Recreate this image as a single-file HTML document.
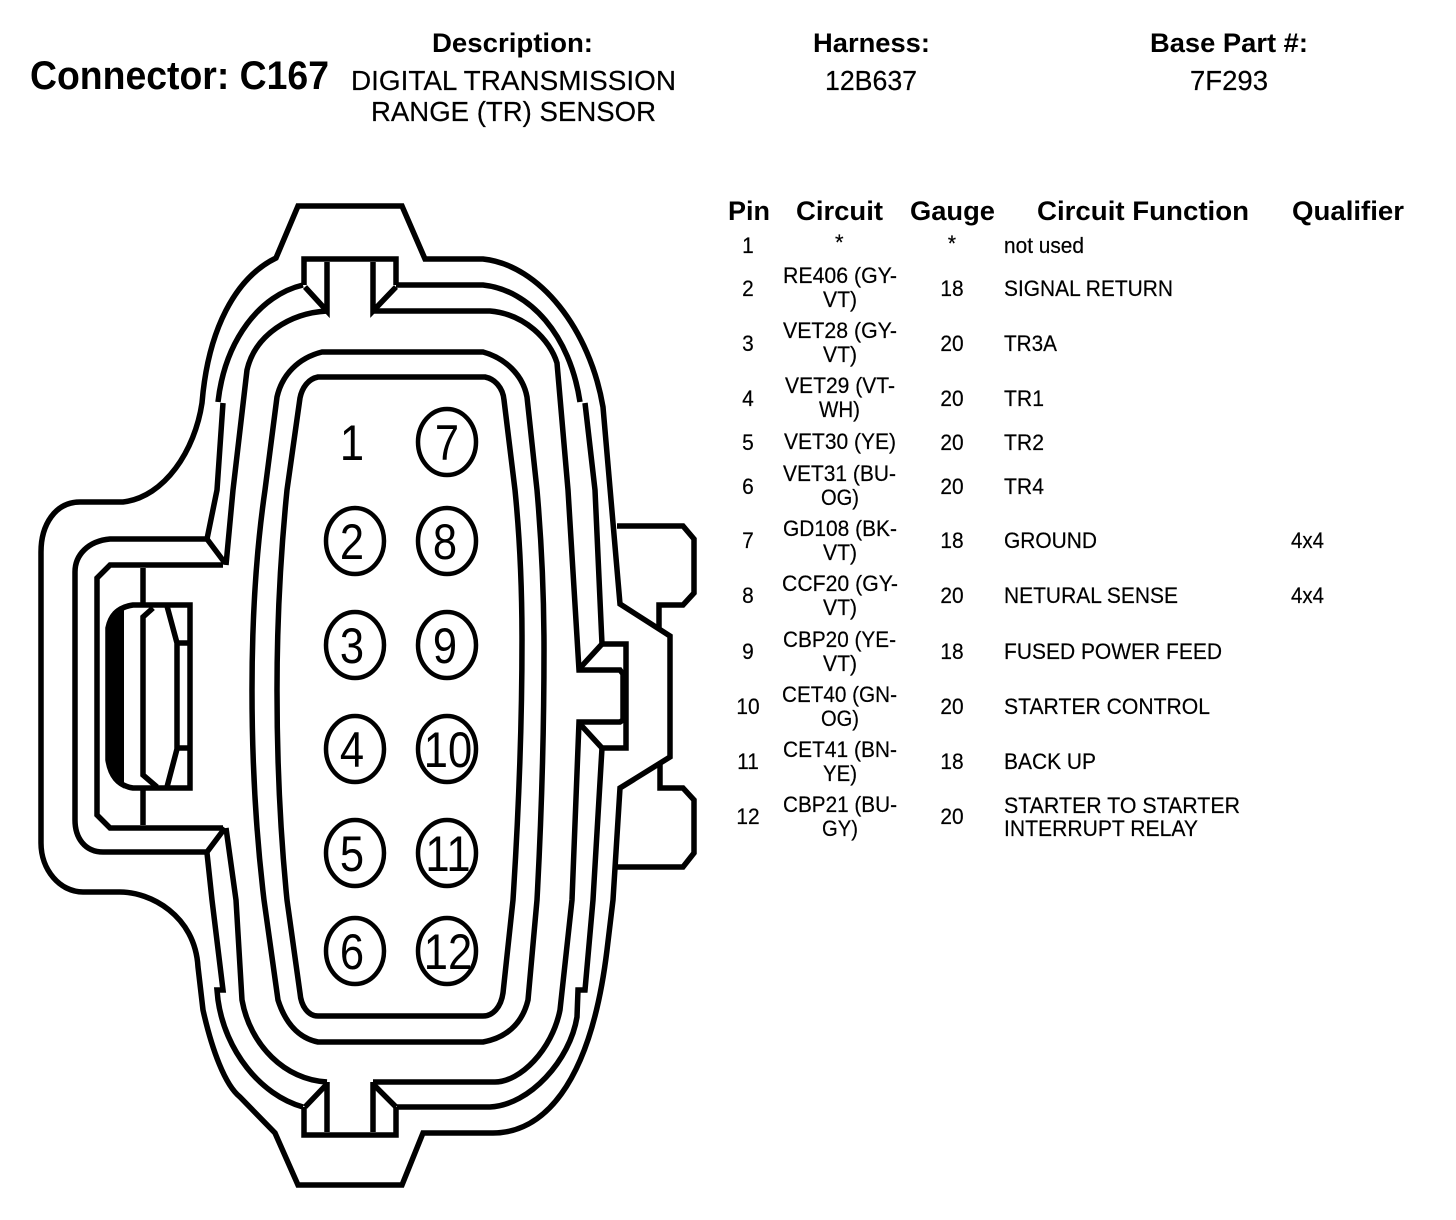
<!DOCTYPE html>
<html><head><meta charset="utf-8"><style>
html,body{margin:0;padding:0;background:#fff}
svg{display:block}
text{font-family:"Liberation Sans",sans-serif;fill:#000}
.h{font-weight:bold;font-size:27px}
.v{font-size:28px;stroke:#000;stroke-width:.2}
.t{font-size:22px;stroke:#000;stroke-width:.2}
.n{font-size:50px;text-anchor:middle}
</style></head><body>
<svg width="1456" height="1220" viewBox="0 0 1456 1220" xmlns="http://www.w3.org/2000/svg">
<rect width="1456" height="1220" fill="#fff"/>
<text x="30" y="89" font-size="40" font-weight="bold" textLength="299" lengthAdjust="spacingAndGlyphs">Connector: C167</text>
<text class="h" x="432" y="52" textLength="161" lengthAdjust="spacingAndGlyphs">Description:</text>
<text class="v" x="351" y="90" textLength="325" lengthAdjust="spacingAndGlyphs">DIGITAL TRANSMISSION</text>
<text class="v" x="371" y="121" textLength="285" lengthAdjust="spacingAndGlyphs">RANGE (TR) SENSOR</text>
<text class="h" x="813" y="52" textLength="117" lengthAdjust="spacingAndGlyphs">Harness:</text>
<text class="v" x="825" y="90" textLength="92" lengthAdjust="spacingAndGlyphs">12B637</text>
<text class="h" x="1150" y="52" textLength="158" lengthAdjust="spacingAndGlyphs">Base Part #:</text>
<text class="v" x="1190" y="90" textLength="78" lengthAdjust="spacingAndGlyphs">7F293</text>

<text class="h" x="728" y="220" textLength="42" lengthAdjust="spacingAndGlyphs">Pin</text>
<text class="h" x="796" y="220" textLength="87" lengthAdjust="spacingAndGlyphs">Circuit</text>
<text class="h" x="910" y="220" textLength="85" lengthAdjust="spacingAndGlyphs">Gauge</text>
<text class="h" x="1037" y="220" textLength="212" lengthAdjust="spacingAndGlyphs">Circuit Function</text>
<text class="h" x="1292" y="220" textLength="112" lengthAdjust="spacingAndGlyphs">Qualifier</text>

<g font-size="22">
<g text-anchor="middle" transform="translate(748,0) scale(.95,1)">
<text class="t" y="253">1</text><text class="t" y="296">2</text><text class="t" y="351">3</text><text class="t" y="406">4</text><text class="t" y="450">5</text><text class="t" y="494">6</text><text class="t" y="548">7</text><text class="t" y="603">8</text><text class="t" y="659">9</text><text class="t" y="714">10</text><text class="t" y="769">11</text><text class="t" y="824">12</text>
</g>
<g text-anchor="middle" transform="translate(952,0) scale(.95,1)">
<text class="t" y="251">*</text><text class="t" y="296">18</text><text class="t" y="351">20</text><text class="t" y="406">20</text><text class="t" y="450">20</text><text class="t" y="494">20</text><text class="t" y="548">18</text><text class="t" y="603">20</text><text class="t" y="659">18</text><text class="t" y="714">20</text><text class="t" y="769">18</text><text class="t" y="824">20</text>
</g>
<text class="t" x="835" y="250">*</text>
<text class="t" x="783" y="283" textLength="114" lengthAdjust="spacingAndGlyphs">RE406 (GY-</text>
<text class="t" x="823" y="307" textLength="34" lengthAdjust="spacingAndGlyphs">VT)</text>
<text class="t" x="783" y="338" textLength="114" lengthAdjust="spacingAndGlyphs">VET28 (GY-</text>
<text class="t" x="823" y="362" textLength="34" lengthAdjust="spacingAndGlyphs">VT)</text>
<text class="t" x="785" y="393" textLength="110" lengthAdjust="spacingAndGlyphs">VET29 (VT-</text>
<text class="t" x="819" y="417" textLength="41" lengthAdjust="spacingAndGlyphs">WH)</text>
<text class="t" x="784" y="449" textLength="112" lengthAdjust="spacingAndGlyphs">VET30 (YE)</text>
<text class="t" x="783" y="481" textLength="113" lengthAdjust="spacingAndGlyphs">VET31 (BU-</text>
<text class="t" x="821" y="505" textLength="38" lengthAdjust="spacingAndGlyphs">OG)</text>
<text class="t" x="783" y="536" textLength="114" lengthAdjust="spacingAndGlyphs">GD108 (BK-</text>
<text class="t" x="823" y="560" textLength="34" lengthAdjust="spacingAndGlyphs">VT)</text>
<text class="t" x="782" y="591" textLength="116" lengthAdjust="spacingAndGlyphs">CCF20 (GY-</text>
<text class="t" x="823" y="615" textLength="34" lengthAdjust="spacingAndGlyphs">VT)</text>
<text class="t" x="783" y="647" textLength="113" lengthAdjust="spacingAndGlyphs">CBP20 (YE-</text>
<text class="t" x="823" y="671" textLength="34" lengthAdjust="spacingAndGlyphs">VT)</text>
<text class="t" x="782" y="702" textLength="115" lengthAdjust="spacingAndGlyphs">CET40 (GN-</text>
<text class="t" x="821" y="726" textLength="38" lengthAdjust="spacingAndGlyphs">OG)</text>
<text class="t" x="783" y="757" textLength="114" lengthAdjust="spacingAndGlyphs">CET41 (BN-</text>
<text class="t" x="823" y="781" textLength="34" lengthAdjust="spacingAndGlyphs">YE)</text>
<text class="t" x="783" y="812" textLength="114" lengthAdjust="spacingAndGlyphs">CBP21 (BU-</text>
<text class="t" x="822" y="836" textLength="36" lengthAdjust="spacingAndGlyphs">GY)</text>

<text class="t" x="1004" y="253" textLength="80" lengthAdjust="spacingAndGlyphs">not used</text>
<text class="t" x="1004" y="296" textLength="169" lengthAdjust="spacingAndGlyphs">SIGNAL RETURN</text>
<text class="t" x="1004" y="351" textLength="53" lengthAdjust="spacingAndGlyphs">TR3A</text>
<text class="t" x="1004" y="406" textLength="40" lengthAdjust="spacingAndGlyphs">TR1</text>
<text class="t" x="1004" y="450" textLength="40" lengthAdjust="spacingAndGlyphs">TR2</text>
<text class="t" x="1004" y="494" textLength="40" lengthAdjust="spacingAndGlyphs">TR4</text>
<text class="t" x="1004" y="548" textLength="93" lengthAdjust="spacingAndGlyphs">GROUND</text>
<text class="t" x="1004" y="603" textLength="174" lengthAdjust="spacingAndGlyphs">NETURAL SENSE</text>
<text class="t" x="1004" y="659" textLength="218" lengthAdjust="spacingAndGlyphs">FUSED POWER FEED</text>
<text class="t" x="1004" y="714" textLength="206" lengthAdjust="spacingAndGlyphs">STARTER CONTROL</text>
<text class="t" x="1004" y="769" textLength="92" lengthAdjust="spacingAndGlyphs">BACK UP</text>
<text class="t" x="1004" y="813" textLength="236" lengthAdjust="spacingAndGlyphs">STARTER TO STARTER</text>
<text class="t" x="1004" y="836" textLength="194" lengthAdjust="spacingAndGlyphs">INTERRUPT RELAY</text>
<text class="t" x="1291" y="548" textLength="33" lengthAdjust="spacingAndGlyphs">4x4</text>
<text class="t" x="1291" y="603" textLength="33" lengthAdjust="spacingAndGlyphs">4x4</text>
</g>

<g fill="none" stroke="#000" stroke-width="5.5" stroke-linejoin="miter" stroke-miterlimit="3">
<!-- outer shell -->
<path d="M298 206 H402 L425 259 H483 C540 265 590 330 603 407 L620 604 L670 636 V757 L620 788 L613 900 L607 950 C590 1090 540 1133 493 1133 H423 L402 1185 H298 L275 1133 L240 1097 C225 1085 212 1050 203 1010 L198 967 C195 915 150 892 120 892 H83 C60 892 41 870 41 843 V552 C41 525 55 502 80 502 H123 C165 497 195 450 202 403 C208 330 235 278 276 258 Z"/>
<!-- right tabs -->
<path d="M617 526 H683 L694 539 V593 L683 605 H659 V628"/>
<path d="M660 763 V788 H683 L694 800 V853 L683 867 H613"/>
<!-- second ring -->
<path d="M303 285 C260 295 225 340 218 402"/>
<path d="M223 403 L217 490 L207 539 H110 C88 541 75 555 75 572 V820 C75 838 85 852 103 852 H207 L225 828"/>
<path d="M207 539 L225 563"/>
<path d="M207 853 L212 900 L223 990 H217 L218 1000 C225 1050 260 1095 303 1107"/>
<path d="M396 285 H483 C530 290 570 335 580 402"/>
<path d="M585 403 L595 490 L602 644 H626 V748 H602 L593 900 L585 990 H578 L577 1017 C570 1060 530 1105 490 1107 H397"/>
<!-- third ring -->
<path d="M327 311 C290 313 255 335 247 370 L233 490 L226 565"/>
<path d="M373 311 H490 C525 314 550 340 557 363 L568 490 L579 670 H620 L623 674 V720 L620 722 H579 L572 900 L560 1010 C552 1050 520 1082 495 1082 H373"/>
<path d="M226 828 L236 900 L242 1000 C250 1045 285 1080 327 1082"/>
<!-- inner rings -->
<path d="M322 352 H483 C505 358 523 375 527 397 L537 490 Q544 570 544 650 Q544 770 537 900 L528 1000 C522 1025 505 1038 483 1042 H318 C298 1038 285 1022 278 1000 L264 900 Q252 800 252 690 Q252 580 265 490 L277 397 C282 375 298 358 322 352 Z"/>
<path d="M318 377 H485 C495 379 503 388 504 400 L515 490 Q522 560 522 640 Q522 760 513 900 L503 993 C501 1007 493 1016 483 1016 H318 C308 1016 301 1006 300 993 L287 900 Q277 800 277 690 Q277 590 287 490 L300 398 C302 388 308 379 318 377 Z"/>
<!-- notches -->
<path d="M304 285 V259 H396 V285"/>
<path d="M327 262 V311 L305 287"/>
<path d="M373 262 V311 L396 287"/>
<path d="M304 1107 V1135 H396 V1107"/>
<path d="M327 1082 V1132 M373 1082 V1132"/>
<path d="M327 1084 L305 1107 M373 1084 L396 1107"/>
<!-- right notch -->
<path d="M602 644 L580 668 M580 724 L602 748"/>
<!-- left channel -->
<path d="M223 565 H110 L97 578 V815 L110 828 H223"/>
<path d="M143 568 V605 M143 788 V825"/>
<!-- latch -->
<path d="M133 605 H190 V788 H133 Q112 785 108 760 V628 Q112 608 133 605 Z"/>
<path d="M108 630 Q110 612 122 608 V785 Q110 778 108 760 Z" fill="#000" stroke-width="4"/>
<path d="M153 608 L143 617 V775 L157 787"/>
<path d="M167 606 L177 643 V749 L167 787"/>
<path d="M177 643 H190 M177 748 H190"/>
</g>

<!-- pins -->
<g fill="none" stroke="#000" stroke-width="4.5">
<ellipse cx="447" cy="442" rx="29" ry="33"/>
<ellipse cx="355" cy="541" rx="29" ry="33"/><ellipse cx="447" cy="541" rx="29" ry="33"/>
<ellipse cx="355" cy="645" rx="29" ry="33"/><ellipse cx="447" cy="645" rx="29" ry="33"/>
<ellipse cx="355" cy="749" rx="29" ry="33"/><ellipse cx="447" cy="749" rx="29" ry="33"/>
<ellipse cx="355" cy="853" rx="29" ry="33"/><ellipse cx="447" cy="853" rx="29" ry="33"/>
<ellipse cx="355" cy="951" rx="29" ry="33"/><ellipse cx="447" cy="951" rx="29" ry="33"/>
</g>
<g>
<text class="n" transform="translate(352,460) scale(.87,1)">1</text>
<text class="n" transform="translate(447,460) scale(.87,1)">7</text>
<text class="n" transform="translate(352,559) scale(.87,1)">2</text>
<text class="n" transform="translate(445,559) scale(.87,1)">8</text>
<text class="n" transform="translate(352,663) scale(.87,1)">3</text>
<text class="n" transform="translate(445,663) scale(.87,1)">9</text>
<text class="n" transform="translate(352,767) scale(.87,1)">4</text>
<text class="n" transform="translate(448,767) scale(.87,1)">10</text>
<text class="n" transform="translate(352,871) scale(.87,1)">5</text>
<text class="n" transform="translate(448,871) scale(.87,1)">11</text>
<text class="n" transform="translate(352,969) scale(.87,1)">6</text>
<text class="n" transform="translate(448,969) scale(.87,1)">12</text>
</g>
</svg>
</body></html>
